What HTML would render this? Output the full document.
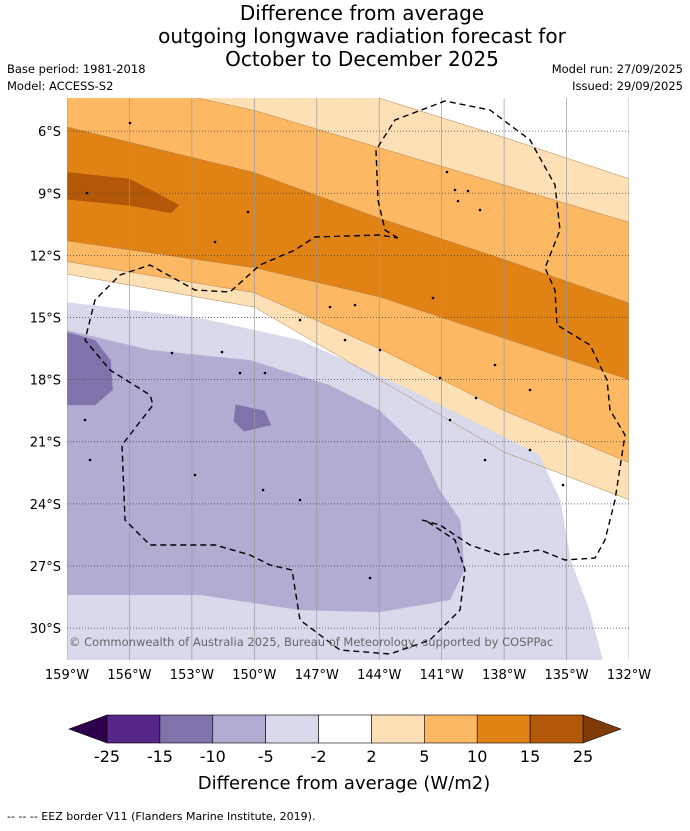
<!DOCTYPE html>
<html><head><meta charset="utf-8"><style>
html,body{margin:0;padding:0;background:#fff;}
body{width:690px;height:827px;overflow:hidden;font-family:"DejaVu Sans","Liberation Sans",sans-serif;}
</style></head><body>
<svg width="690" height="827" viewBox="0 0 690 827" xmlns="http://www.w3.org/2000/svg" font-family="DejaVu Sans, Liberation Sans, sans-serif">
<g font-size="20" text-anchor="middle" fill="#000">
<text x="362" y="20">Difference from average</text>
<text x="362" y="43">outgoing longwave radiation forecast for</text>
<text x="362" y="66">October to December 2025</text>
</g>
<text x="7" y="73" font-size="11.5">Base period: 1981-2018</text>
<text x="7" y="90" font-size="11.5">Model: ACCESS-S2</text>
<text x="683" y="73" font-size="11.5" text-anchor="end">Model run: 27/09/2025</text>
<text x="683" y="90" font-size="11.5" text-anchor="end">Issued: 29/09/2025</text>
<defs><clipPath id="mapclip"><rect x="67" y="98" width="562" height="562"/></clipPath></defs>
<g id="map" clip-path="url(#mapclip)"></g>
<g id="axes" font-size="13"></g>
<g id="cbar"></g>
<text x="344" y="789" font-size="18" text-anchor="middle">Difference from average (W/m2)</text>
<text x="7" y="820" font-size="11">--  --  -- EEZ border V11 (Flanders Marine Institute, 2019).</text>
</svg>
<script>
const NS="http://www.w3.org/2000/svg";
// axis domain
const lonMin=-159, lonMax=-132, latTop=4.4, latBot=31.54;
const lonTicks=[-159,-156,-153,-150,-147,-144,-141,-138,-135,-132];
const latTicks=[6,9,12,15,18,21,24,27,30];
// boundary lines: lat (°S) at these lons
const bLons=[-159,-150,-144,-138,-132];
const b1=[2.0,3.0,4.4,6.3,8.3];
const b2=[3.0,5.0,6.8,8.6,10.4];
const b3=[5.8,8.0,10.2,12.2,14.3];
const b5=[11.3,12.6,14.0,16.0,18.0];
const b6=[12.3,13.8,16.5,19.5,22.0];
const b7=[12.9,14.5,18.0,21.5,23.8];
// regions (lon, lat °S)
const lightPurpleLon=[-159,-152.6,-147.8,-143.0,-139.6,-136.3,-135.3,-134.8,-133.9,-133.25,-159];
const lightPurpleLat=[14.26,15.03,16.09,18.26,19.95,21.64,23.82,26.71,29.13,31.54,31.54];
const midPurpleLon=[-159,-155.0,-150.2,-146.4,-144.0,-142.0,-141.1,-140.1,-139.9,-140.6,-144.0,-147.8,-152.6,-159];
const midPurpleLat=[15.61,16.57,17.06,18.26,19.47,21.40,23.33,24.78,27.20,28.65,29.23,29.13,28.40,28.40];
const darkPurpleLon=[-159,-157.65,-156.9,-156.8,-157.65,-159];
const darkPurpleLat=[15.7,16.09,17.06,18.5,19.23,19.23];
const darkPurple2Lon=[-150.9,-149.5,-149.2,-150.5,-151];
const darkPurple2Lat=[19.2,19.5,20.2,20.5,20.0];
const lpBlobLon=[-140.1,-138.9,-139.5];
const lpBlobLat=[22.4,22.3,23.0];
const brownLon=[-159,-156,-153.6,-154,-156,-159];
const brownLat=[7.98,8.3,9.57,9.96,9.6,9.3];
// colorbar
const cbLevels=[-25,-15,-10,-5,-2,2,5,10,15,25];
const cbColors=["#542788","#8073ac","#b2abd2","#d8daeb","#ffffff","#fee0b6","#fdb863","#e08214","#b35806"];

const X=lon=>67+(lon-lonMin)/(lonMax-lonMin)*562;
const Y=lat=>98+(lat-latTop)/(latBot-latTop)*562;
const map=document.getElementById('map');
function poly(lons,lats,fill,name,parent){
  const p=document.createElementNS(NS,'polygon');
  p.setAttribute('points',lons.map((l,i)=>X(l)+','+Y(lats[i])).join(' '));
  p.setAttribute('fill',fill);
  
  
  (parent||map).appendChild(p);return p;
}
function above(lats,fill,name){
  const ex=bLons.slice();ex.unshift(-160);ex.push(-131);
  const ll=lats.slice();ll.unshift(lats[0]);ll.push(lats[lats.length-1]);
  poly(ex.concat([-131,-160]),ll.concat([0,0]),fill,name);
}
const bg=document.createElementNS(NS,'rect');
bg.setAttribute('x',67);bg.setAttribute('y',98);bg.setAttribute('width',562);bg.setAttribute('height',562);bg.setAttribute('fill','#fff');


map.appendChild(bg);
above(b7,"#fee0b6","band-2-5-lower");
above(b6,"#fdb863","band-5-10-lower");
above(b5,"#e08214","band-10-15");
above(b3,"#fdb863","band-5-10-upper");
above(b2,"#fee0b6","band-2-5-upper");
above(b1,"#ffffff","band-neutral-top");
poly(brownLon,brownLat,"#b35806","band-15-25-blob");
poly(lightPurpleLon,lightPurpleLat,"#d8daeb","band-minus5-minus2");
poly(midPurpleLon,midPurpleLat,"#b2abd2","band-minus10-minus5");
poly(darkPurpleLon,darkPurpleLat,"#8073ac","band-minus15-minus10");
poly(darkPurple2Lon,darkPurple2Lat,"#8073ac","band-minus15-minus10-blob");
poly(lpBlobLon,lpBlobLat,"#d8daeb","band-minus5-minus2-blob");
[b1,b2,b3,b5,b6,b7].forEach(b=>{
  const pl=document.createElementNS(NS,'polyline');
  const ex=[-160].concat(bLons,[-131]);const ll=[b[0]].concat(b,[b[b.length-1]]);
  pl.setAttribute('points',ex.map((l,i)=>X(l)+','+Y(ll[i])).join(' '));
  pl.setAttribute('fill','none');pl.setAttribute('stroke','#b08050');pl.setAttribute('stroke-width','0.5');
  
  
  map.appendChild(pl);
});
lonTicks.forEach(l=>{
  const ln=document.createElementNS(NS,'line');
  ln.setAttribute('x1',X(l));ln.setAttribute('x2',X(l));ln.setAttribute('y1',98);ln.setAttribute('y2',660);
  ln.setAttribute('stroke','#999');ln.setAttribute('stroke-width','0.7');
  
  
  map.appendChild(ln);
});
latTicks.forEach(l=>{
  const ln=document.createElementNS(NS,'line');
  ln.setAttribute('x1',67);ln.setAttribute('x2',629);ln.setAttribute('y1',Y(l));ln.setAttribute('y2',Y(l));
  ln.setAttribute('stroke','#444');ln.setAttribute('stroke-width','0.7');ln.setAttribute('stroke-dasharray','1,2');
  
  
  map.appendChild(ln);
});
const eez=document.createElementNS(NS,'path');
eez.setAttribute('d','M398,238 L385,230 L378,200 L376,150 L395,120 L445,101 L490,110 L530,140 L555,185 L560,230 L545,268 L555,290 L557,325 L590,345 L607,380 L610,410 L625,435 L615,500 L605,540 L595,558 L565,560 L540,550 L500,555 L470,545 L440,525 L422,520 M428,522 L455,540 L465,570 L460,610 L430,640 L390,654 L340,650 L300,620 L292,570 L270,565 L250,555 L215,545 L150,545 L125,520 L122,445 L153,405 L150,395 L110,370 L85,340 L95,300 L120,275 L150,265 L195,290 L230,292 L260,265 L295,250 L315,237 L380,235 L398,238');
eez.setAttribute('fill','none');eez.setAttribute('stroke','#000');eez.setAttribute('stroke-width','1.4');eez.setAttribute('stroke-dasharray','6,4');


map.appendChild(eez);
[[87,193],[130,123],[455,190],[468,191],[480,210],[458,201],[447,172],[330,307],[355,305],[300,320],[345,340],[380,350],[440,378],[495,365],[530,390],[222,352],[265,373],[240,373],[172,353],[85,420],[90,460],[195,475],[263,490],[300,500],[370,578],[485,460],[530,450],[563,485],[248,212],[215,242],[433,298],[450,420],[476,398]].forEach(p=>{
  const c=document.createElementNS(NS,'circle');
  c.setAttribute('cx',p[0]);c.setAttribute('cy',p[1]);c.setAttribute('r','1.3');c.setAttribute('fill','#000');
  
  
  map.appendChild(c);
});
const cp=document.createElementNS(NS,'text');
cp.setAttribute('x',69);cp.setAttribute('y',646);cp.setAttribute('font-size','11.5');cp.setAttribute('fill','#666');
cp.textContent='© Commonwealth of Australia 2025, Bureau of Meteorology, supported by COSPPac';


map.appendChild(cp);
const axes=document.getElementById('axes');
lonTicks.forEach(l=>{
  const t=document.createElementNS(NS,'text');
  t.setAttribute('x',X(l));t.setAttribute('y',679);t.setAttribute('text-anchor','middle');
  t.textContent=Math.abs(l)+'°W';
  
  
  axes.appendChild(t);
});
latTicks.forEach(l=>{
  const t=document.createElementNS(NS,'text');
  t.setAttribute('x',61);t.setAttribute('y',Y(l)+5);t.setAttribute('text-anchor','end');
  t.textContent=l+'°S';
  
  
  axes.appendChild(t);
});
const cb=document.getElementById('cbar');
const cx0=107,cx1=583,cy=715,ch=28,sw=(cx1-cx0)/cbColors.length;
const lt=document.createElementNS(NS,'polygon');
lt.setAttribute('points',`69,${cy+ch/2} ${cx0},${cy} ${cx0},${cy+ch}`);lt.setAttribute('fill','#2d004b');lt.setAttribute('stroke','#000');lt.setAttribute('stroke-width','0.6');


cb.appendChild(lt);
const rt=document.createElementNS(NS,'polygon');
rt.setAttribute('points',`621,${cy+ch/2} ${cx1},${cy} ${cx1},${cy+ch}`);rt.setAttribute('fill','#7f3b08');rt.setAttribute('stroke','#000');rt.setAttribute('stroke-width','0.6');


cb.appendChild(rt);
cbColors.forEach((c,i)=>{
  const r=document.createElementNS(NS,'rect');
  r.setAttribute('x',cx0+i*sw);r.setAttribute('y',cy);r.setAttribute('width',sw);r.setAttribute('height',ch);
  r.setAttribute('fill',c);r.setAttribute('stroke','#000');r.setAttribute('stroke-width','0.6');
  
  
  cb.appendChild(r);
});
cbLevels.forEach((v,i)=>{
  const t=document.createElementNS(NS,'text');
  t.setAttribute('x',cx0+i*sw);t.setAttribute('y',762);t.setAttribute('text-anchor','middle');t.setAttribute('font-size','16');
  t.textContent=v;
  
  
  cb.appendChild(t);
});
</script>
</body></html>
